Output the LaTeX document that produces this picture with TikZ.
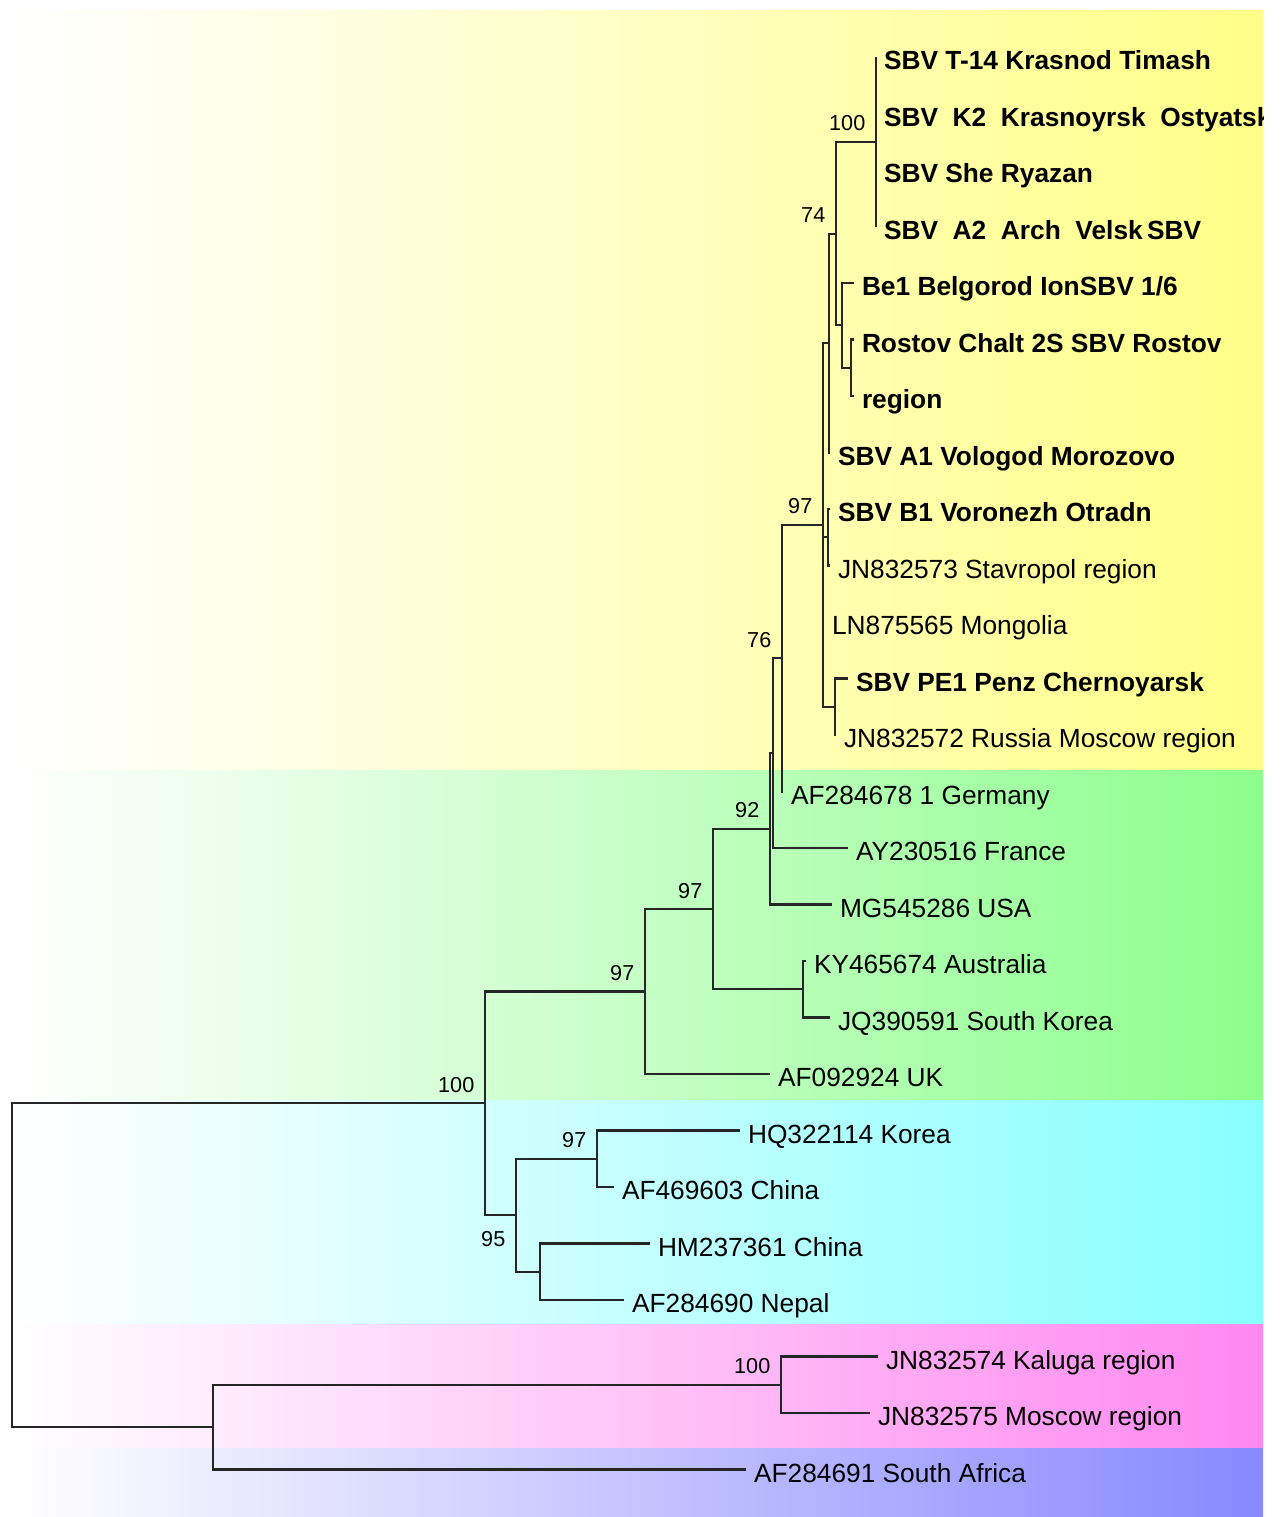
\documentclass[tikz,border=0pt]{standalone}
\usepackage{fontspec}
\setmainfont{Liberation Sans}
\usepackage{xcolor}
\definecolor{bandY}{RGB}{255,255,136}
\definecolor{bandG}{RGB}{140,255,140}
\definecolor{bandC}{RGB}{136,255,255}
\definecolor{bandP}{RGB}{255,136,240}
\definecolor{bandV}{RGB}{136,136,255}

\begin{document}
\begin{tikzpicture}[x=0.01cm, y=-0.01cm,
		      BR/.style = {line width=0.6pt, black!85},
		      TIP/.style = {anchor=west, inner xsep=0.08cm, inner ysep=0pt, outer sep=0pt,
		      text height=0.72em, text depth=0pt, font=\fontsize{7.48}{9}\selectfont},
		      TIPB/.style = {TIP, font=\fontsize{7.48}{9}\selectfont\bfseries},
		      BS/.style = {anchor=south east, inner sep=0pt, xshift=-0.1cm, yshift=0.1cm,
		      font=\fontsize{6.15}{7}\selectfont} ]
\useasboundingbox (0,0) rectangle (1281,1517);

\foreach \c/\a/\b in {bandY/10/770, bandG/770/1100, bandC/1100/1324, bandP/1324/1448, bandV/1448/1517}
	\shade[left color=white, right color=\c] (15,\a) rectangle (1263,\b);

\begin{scope}
\clip (0,0) rectangle (1263,1517);
% tips
\node[TIPB] (t1)  at (876,57)     {SBV T-14 Krasnod Timash};
\node[TIPB] (t2)  at (876,113.5)  {SBV~~K2~~Krasnoyrsk~~Ostyatsk};
\node[TIPB] (t3)  at (876,170)    {SBV She Ryazan};
\node[TIPB] (t4)  at (876,226.5)  {SBV~~A2~~Arch~~Velsk\,SBV};
\node[TIPB] (t5)  at (854,283)    {Be1 Belgorod IonSBV 1/6};
\node[TIPB] (t6)  at (854,339.5)  {Rostov Chalt 2S SBV Rostov};
\node[TIPB] (t7)  at (854,396)    {region};
\node[TIPB] (t8)  at (830,452.5)  {SBV A1 Vologod Morozovo};
\node[TIPB] (t9)  at (830,509)    {SBV B1 Voronezh Otradn};
\node[TIP]  (t10) at (830,565.5)  {JN832573 Stavropol region};
\node[TIP]  (t11) at (824,622)    {LN875565 Mongolia};
\node[TIPB] (t12) at (848,678.5)  {SBV PE1 Penz Chernoyarsk};
\node[TIP]  (t13) at (836,735)    {JN832572 Russia Moscow region};
\node[TIP]  (t14) at (783,791.5)  {AF284678 1 Germany};
\node[TIP]  (t15) at (848,848)    {AY230516 France};
\node[TIP]  (t16) at (832,904.5)  {MG545286 USA};
\node[TIP]  (t17) at (806,961)    {KY465674 Australia};
\node[TIP]  (t18) at (830,1017.5) {JQ390591 South Korea};
\node[TIP]  (t19) at (770,1074)   {AF092924 UK};
\node[TIP]  (t20) at (740,1130.5) {HQ322114 Korea};
\node[TIP]  (t21) at (614,1187)   {AF469603 China};
\node[TIP]  (t22) at (650,1243.5) {HM237361 China};
\node[TIP]  (t23) at (624,1300)   {AF284690 Nepal};
\node[TIP]  (t24) at (878,1356.5) {JN832574 Kaluga region};
\node[TIP]  (t25) at (870,1413)   {JN832575 Moscow region};
\node[TIP]  (t26) at (746,1469.5) {AF284691 South Africa};
\end{scope}

% inner nodes
\coordinate (nA) at (876,141.75);
\coordinate (nC) at (851,367.75);
\coordinate (nB) at (842,325.4);
\coordinate (nD) at (836,233.6);
\coordinate (nE) at (829,343);
\coordinate (nG) at (828,537.25);
\coordinate (nH) at (835,706.75);
\coordinate (nF) at (823,524.9);
\coordinate (nI) at (782,658.2);
\coordinate (nK) at (773,753.1);
\coordinate (nJ) at (770,828.8);
\coordinate (nM) at (803,989.25);
\coordinate (nL) at (713,909);
\coordinate (nN) at (645,991.5);
\coordinate (nP) at (597,1158.75);
\coordinate (nQ) at (540,1271.75);
\coordinate (nO) at (516,1215.25);
\coordinate (nR) at (485,1103.4);
\coordinate (nU) at (781,1384.75);
\coordinate (nT) at (213,1427.1);
\coordinate (nS) at (12,1265.25);

\draw[BR] (nA) |- (t1.west)  (nA) |- (t2.west)  (nA) |- (t3.west)  (nA) |- (t4.west)
	(nC) |- (t6.west)  (nC) |- (t7.west)
	(nB) |- (t5.west)  (nB) |- (nC)
	(nD) |- (nA)  (nD) |- (nB)
	(nE) |- (nD)  (nE) |- (t8.west)
	(nG) |- (t9.west)  (nG) |- (t10.west)
	(nH) |- (t12.west)  (nH) |- (t13.west)
	(nF) |- (nE)  (nF) |- (nG)  (nF) |- (t11.west)  (nF) |- (nH)
	(nI) |- (nF)  (nI) |- (t14.west)
	(nK) |- (nI)  (nK) |- (t15.west)
	(nJ) |- (nK)  (nJ) |- (t16.west)
	(nM) |- (t17.west)  (nM) |- (t18.west)
	(nL) |- (nJ)  (nL) |- (nM)
	(nN) |- (nL)  (nN) |- (t19.west)
	(nP) |- (t20.west)  (nP) |- (t21.west)
	(nQ) |- (t22.west)  (nQ) |- (t23.west)
	(nO) |- (nP)  (nO) |- (nQ)
	(nR) |- (nN)  (nR) |- (nO)
	(nU) |- (t24.west)  (nU) |- (t25.west)
	(nT) |- (nU)  (nT) |- (t26.west)
	(nS) |- (nR)  (nS) |- (nT);

% bootstrap values
\node[BS] (bA) at (nA) {100};
\node[BS] (bD) at (nD) {74};
\node[BS] (bF) at (nF) {97};
\node[BS] (bI) at (nI) {76};
\node[BS] (bJ) at (nJ) {92};
\node[BS] (bL) at (nL) {97};
\node[BS] (bN) at (nN) {97};
\node[BS] (bP) at (nP) {97};
\node[BS, anchor=north east, yshift=-0.25cm] (bO) at (nO) {95};
\node[BS] (bR) at (nR) {100};
\node[BS] (bU) at (nU) {100};
\end{tikzpicture}
\end{document}
